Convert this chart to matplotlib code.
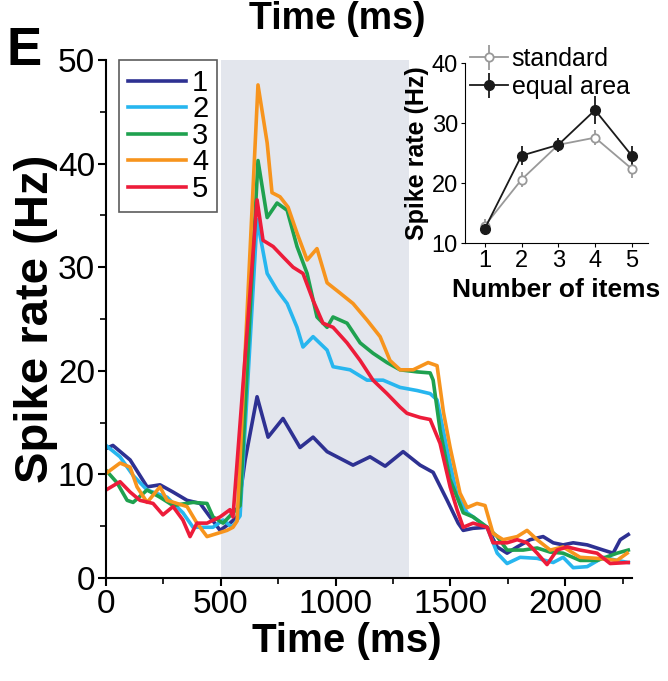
import matplotlib
matplotlib.use('Agg')
import matplotlib.pyplot as plt

plt.rcParams['font.family'] = ['Liberation Sans', 'DejaVu Sans']

# series 1..5 : (time ms, spike rate Hz)
t1 = [0, 30, 105, 179, 235, 292, 353, 410, 453, 497, 540, 571, 606, 658, 706, 771, 845, 902, 963,
      1076, 1150, 1216, 1294, 1368, 1425, 1486, 1534, 1556, 1599, 1660, 1704, 1747, 1791, 1847,
      1904, 1948, 1991, 2035, 2096, 2166, 2209, 2240, 2275]
r1 = [12.5, 12.8, 11.4, 8.8, 9.0, 8.3, 7.5, 7.2, 5.9, 4.6, 5.3, 5.9, 11.4, 17.5, 13.6, 15.4, 12.6,
      13.6, 12.2, 10.9, 11.7, 10.8, 12.2, 10.9, 10.2, 7.5, 5.3, 4.6, 4.8, 4.9, 3.0, 2.4, 3.0, 3.7,
      4.0, 3.4, 3.2, 3.4, 3.2, 2.7, 2.4, 3.7, 4.2]

t2 = [0, 61, 118, 179, 266, 335, 379, 466, 510, 549, 584, 658, 702, 745, 789, 832, 858, 902, 963,
      989, 1063, 1137, 1207, 1281, 1355, 1412, 1442, 1499, 1529, 1573, 1599, 1660, 1704, 1747,
      1804, 1878, 1948, 1991, 2035, 2096, 2166, 2226, 2275]
r2 = [12.8, 11.7, 9.9, 8.5, 7.8, 6.3, 4.9, 4.9, 5.6, 4.9, 6.0, 34.6, 29.4, 27.8, 26.5, 24.2, 22.3,
      23.3, 22.0, 20.4, 20.1, 19.1, 19.1, 18.4, 18.1, 17.8, 17.2, 11.0, 8.0, 6.3, 5.9, 4.9, 2.4,
      1.4, 2.0, 1.9, 1.5, 2.0, 1.0, 1.1, 2.0, 1.7, 1.5]

t3 = [0, 48, 92, 118, 179, 235, 292, 379, 440, 466, 510, 553, 584, 662, 702, 745, 789, 832, 876,
      919, 963, 989, 1050, 1107, 1163, 1224, 1281, 1355, 1412, 1425, 1455, 1499, 1556, 1599, 1660,
      1704, 1747, 1817, 1878, 1935, 1991, 2065, 2139, 2226, 2275]
r3 = [10.4, 9.2, 7.5, 7.3, 8.5, 7.8, 7.0, 7.3, 7.2, 5.9, 5.3, 6.3, 7.0, 40.3, 34.8, 36.2, 35.5,
      32.0, 29.4, 25.2, 24.2, 25.2, 24.6, 22.7, 21.7, 20.8, 20.1, 19.9, 19.8, 19.1, 14.3, 9.5, 6.3,
      5.9, 4.9, 4.0, 2.7, 2.7, 2.9, 2.5, 2.4, 1.7, 1.7, 2.4, 2.7]

t4 = [0, 61, 105, 135, 179, 235, 266, 309, 353, 396, 440, 484, 527, 553, 571, 662, 702, 723, 758,
      793, 832, 876, 919, 963, 1020, 1076, 1137, 1194, 1237, 1281, 1338, 1403, 1442, 1470, 1499,
      1542, 1573, 1616, 1651, 1686, 1730, 1791, 1834, 1878, 1935, 1991, 2065, 2139, 2226, 2270]
r4 = [10.1, 11.1, 10.7, 8.8, 7.3, 8.8, 7.5, 7.2, 6.9, 5.3, 4.0, 4.3, 4.6, 4.9, 5.5, 47.6, 42.0,
      37.2, 36.8, 35.8, 33.3, 30.7, 31.8, 28.5, 27.5, 26.5, 24.9, 23.3, 21.0, 20.1, 20.1, 20.8,
      20.5, 16.0, 12.6, 8.2, 6.8, 7.2, 7.0, 4.3, 3.7, 4.0, 4.6, 3.7, 2.7, 3.0, 2.0, 1.9, 1.7, 2.4]

t5 = [0, 61, 105, 148, 205, 248, 292, 335, 366, 396, 440, 497, 540, 553, 658, 684, 728, 771, 815,
      858, 902, 945, 989, 1050, 1107, 1163, 1224, 1281, 1311, 1368, 1412, 1455, 1499, 1529, 1556,
      1599, 1660, 1686, 1747, 1791, 1834, 1878, 1921, 1965, 2009, 2065, 2139, 2196, 2275]
r5 = [8.5, 9.3, 8.3, 7.5, 7.2, 6.1, 6.9, 5.6, 4.0, 5.3, 5.3, 5.9, 6.6, 5.9, 36.5, 32.6, 32.0, 31.0,
      30.0, 29.4, 26.8, 24.6, 24.2, 22.7, 21.0, 19.1, 17.8, 16.5, 15.9, 15.5, 15.3, 13.0, 8.8, 6.6,
      4.9, 5.3, 4.9, 3.4, 3.4, 3.7, 3.4, 2.4, 1.3, 2.7, 3.0, 2.7, 2.4, 1.4, 1.5]

labels = ['1', '2', '3', '4', '5']
colors = ['#2e3192', '#27b6ef', '#1fa14f', '#f7941d', '#ed1c3a']

# inset
n_items = [1, 2, 3, 4, 5]
standard = [12.9, 20.6, 26.4, 27.6, 22.4]
standard_err = [1.2, 1.3, 1.2, 1.3, 1.5]
equal_area = [12.4, 24.6, 26.4, 32.2, 24.6]
equal_area_err = [1.0, 1.6, 1.2, 2.4, 1.6]

fig = plt.figure(figsize=(6.68, 6.81), dpi=100)
ax = fig.add_axes([0.1587, 0.1512, 0.787, 0.7606])

ax.axvspan(500, 1320, color='#e3e6ed', lw=0, zorder=0)
series = [(t1, r1), (t2, r2), (t3, r3), (t4, r4), (t5, r5)]
for (t, r), c, lab in zip(series, colors, labels):
    ax.plot(t, r, color=c, lw=2.6, label=lab)

ax.set_xlim(0, 2290)
ax.set_ylim(0, 50)
ax.set_xticks([0, 500, 1000, 1500, 2000])
ax.set_xticks(range(250, 2300, 500), minor=True)
ax.set_yticks([0, 10, 20, 30, 40, 50])
ax.set_yticks(range(5, 50, 10), minor=True)
ax.spines['top'].set_visible(False)
ax.spines['right'].set_visible(False)
for s in ['left', 'bottom']:
    ax.spines[s].set_linewidth(1.5)
ax.tick_params(axis='both', which='major', direction='out', length=6, width=1.5,
               labelsize=24, pad=2)
ax.tick_params(axis='both', which='minor', direction='out', length=4, width=1.2)
ax.set_xlabel('Time (ms)', fontsize=29, fontweight='bold', va='top')
ax.xaxis.set_label_coords(0.458, -0.085, transform=ax.transAxes)
ax.set_ylabel('Spike rate (Hz)', fontsize=34, fontweight='bold', labelpad=0)

leg = ax.legend(loc='upper left', bbox_to_anchor=(0.025, 1.0), fontsize=21, frameon=True,
                fancybox=False, edgecolor='#333333', handlelength=2.0, handletextpad=0.2,
                labelspacing=-0.05, borderpad=0.3, borderaxespad=0)
leg.get_frame().set_linewidth(1.2)

# panel letter and title of the panel above, clipped at the top edge
fig.text(0.010, 0.905, 'E', fontsize=38, fontweight='bold', ha='left', va='baseline')
fig.text(0.505, 0.957, 'Time (ms)', fontsize=27, fontweight='bold', ha='center', va='baseline')

ins = fig.add_axes([0.696, 0.643, 0.274, 0.264])
ins.patch.set_alpha(0)
ins.errorbar(n_items, standard, yerr=standard_err, color='#999999', lw=1.3, marker='o', ms=6,
             mfc='white', mec='#999999', mew=1.3, capsize=0, label='standard')
ins.errorbar(n_items, equal_area, yerr=equal_area_err, color='#1a1a1a', lw=1.3, marker='o',
             ms=7, mfc='#1a1a1a', mec='#1a1a1a', capsize=0, label='equal area')
ins.set_xlim(0.46, 5.44)
ins.set_ylim(10, 40)
ins.set_xticks(n_items)
ins.set_yticks([10, 20, 30, 40])
ins.spines['top'].set_visible(False)
ins.spines['right'].set_visible(False)
ins.tick_params(direction='out', length=3, labelsize=17, pad=2)
ins.set_xlabel('Number of items', fontsize=19, fontweight='bold', labelpad=4)
ins.set_ylabel('Spike rate (Hz)', fontsize=18, fontweight='bold', labelpad=2)
ins.legend(loc='upper left', bbox_to_anchor=(0.03, 1.09), fontsize=18, frameon=False,
           handlelength=1.5, handletextpad=0.15, labelspacing=0.15, borderpad=0, borderaxespad=0)

fig.savefig('out.png', dpi=100)
